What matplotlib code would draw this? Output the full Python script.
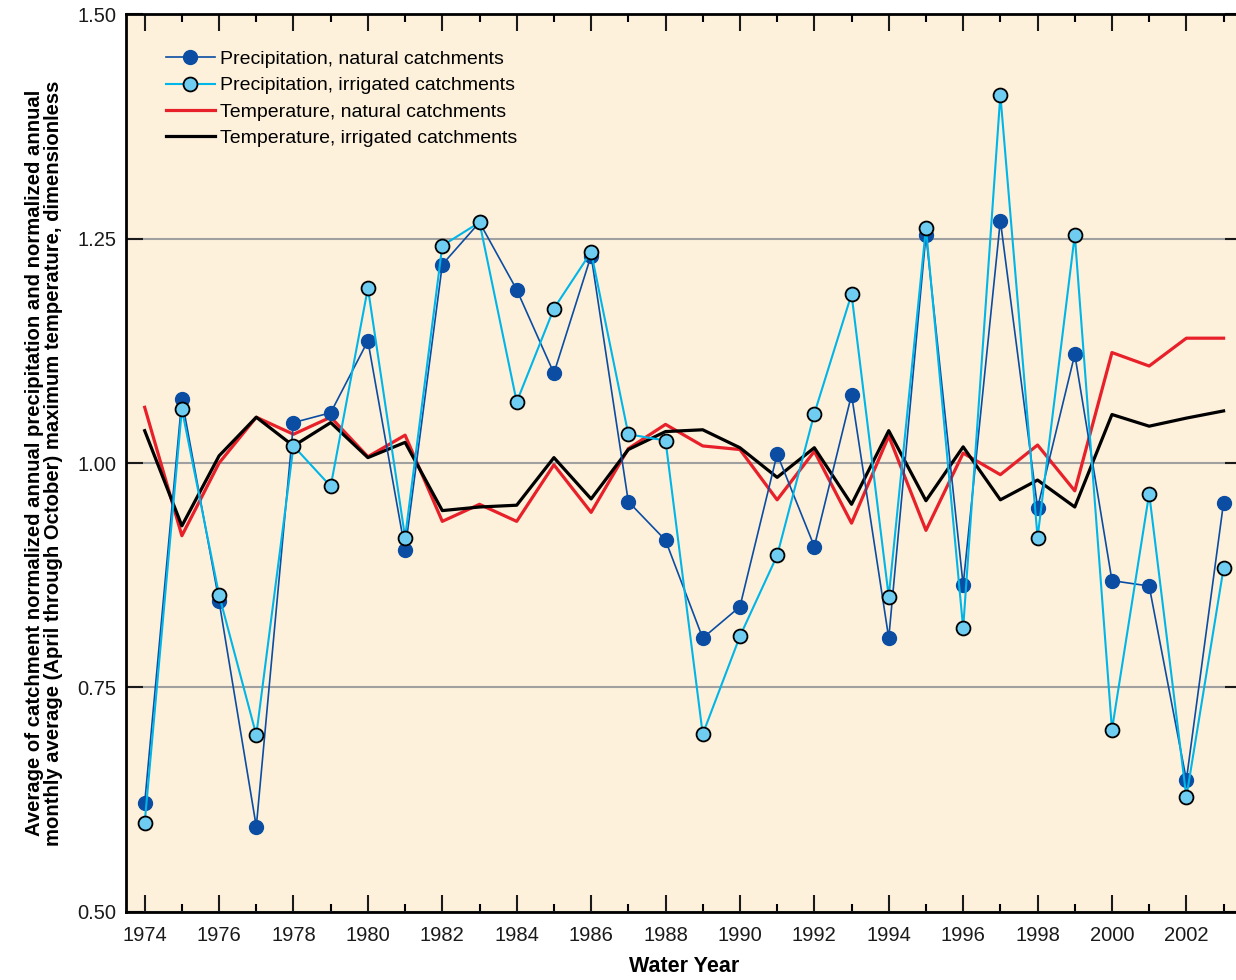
import matplotlib
matplotlib.use('Agg')
import matplotlib.pyplot as plt
from matplotlib.ticker import MultipleLocator, FormatStrFormatter

matplotlib.rcParams['font.family'] = ['Liberation Sans', 'DejaVu Sans']

# 물 연도 (Water year)
years = list(range(1974, 2004))

precip_natural = [0.621, 1.071, 0.846, 0.595, 1.045, 1.056, 1.136, 0.903, 1.221, 1.268,
                  1.193, 1.100, 1.231, 0.957, 0.914, 0.805, 0.840, 1.010, 0.907, 1.076,
                  0.805, 1.254, 0.864, 1.270, 0.950, 1.121, 0.869, 0.863, 0.647, 0.956]

precip_irrigated = [0.599, 1.060, 0.853, 0.697, 1.019, 0.974, 1.195, 0.917, 1.242, 1.268,
                    1.068, 1.172, 1.235, 1.032, 1.025, 0.698, 0.807, 0.897, 1.055, 1.188,
                    0.851, 1.262, 0.816, 1.410, 0.917, 1.254, 0.703, 0.966, 0.628, 0.883]

temp_natural = [1.062, 0.919, 1.000, 1.051, 1.032, 1.051, 1.007, 1.031, 0.935, 0.954,
                0.935, 0.998, 0.945, 1.016, 1.043, 1.019, 1.015, 0.959, 1.013, 0.933,
                1.030, 0.925, 1.011, 0.987, 1.020, 0.969, 1.123, 1.108, 1.139, 1.139]

temp_irrigated = [1.036, 0.930, 1.008, 1.051, 1.019, 1.045, 1.006, 1.023, 0.947, 0.951,
                  0.953, 1.006, 0.960, 1.015, 1.035, 1.037, 1.017, 0.984, 1.017, 0.954,
                  1.036, 0.958, 1.018, 0.959, 0.981, 0.951, 1.054, 1.041, 1.050, 1.058]

fig = plt.figure(figsize=(12.36, 9.8), dpi=100)
ax = fig.add_axes([0.102, 0.0694, 0.903, 0.9163])
ax.set_facecolor('#fdf1dc')

ax.plot(years, temp_natural, color='#e8202a', lw=2.3, zorder=2,
        label='Temperature, natural catchments')
ax.plot(years, temp_irrigated, color='black', lw=2.3, zorder=2.1,
        label='Temperature, irrigated catchments')
ax.plot(years, precip_natural, color='#0a4da2', lw=1.2, marker='o', ms=10,
        mfc='#0a4da2', mec='#0a4da2', zorder=3, label='Precipitation, natural catchments')
ax.plot(years, precip_irrigated, color='#00b5e8', lw=1.5, marker='o', ms=10,
        mfc='#6fcdf2', mec='black', mew=1.3, zorder=4, label='Precipitation, irrigated catchments')

ax.set_xlim(1973.5, 2003.5)
ax.set_ylim(0.5, 1.5)
ax.xaxis.set_major_locator(MultipleLocator(2))
ax.xaxis.set_minor_locator(MultipleLocator(1))
ax.yaxis.set_major_locator(MultipleLocator(0.25))
ax.yaxis.set_major_formatter(FormatStrFormatter('%.2f'))

ax.tick_params(axis='x', which='major', direction='in', length=12, width=1.5,
               top=True, labelsize=14.5, pad=10, colors='#1a1a1a')
ax.tick_params(axis='x', which='minor', direction='in', length=6, width=1.5, top=True)
ax.tick_params(axis='y', which='major', direction='in', length=12, width=1.5,
               right=True, labelsize=14.5, pad=7, colors='#1a1a1a')

ax.grid(axis='y', color='#a0a0a0', lw=1.5)
for s in ['left', 'bottom', 'top']:
    ax.spines[s].set_linewidth(2)
ax.spines['right'].set_visible(False)

ax.set_xlabel('Water Year', fontsize=15.5, fontweight='bold', labelpad=8)
ax.set_ylabel('Average of catchment normalized annual precipitation and normalized annual\n'
              'monthly average (April through October) maximum temperature, dimensionless',
              fontsize=14.6, fontweight='bold', labelpad=10, linespacing=1.05)

h, l = ax.get_legend_handles_labels()
order = [2, 3, 0, 1]
ax.legend([h[i] for i in order], [l[i] for i in order], loc='upper left',
          bbox_to_anchor=(0.02, 0.979), frameon=False, fontsize=14,
          handlelength=2.5, handletextpad=0.3, labelspacing=0.45)

plt.savefig('out.png', dpi=100)
